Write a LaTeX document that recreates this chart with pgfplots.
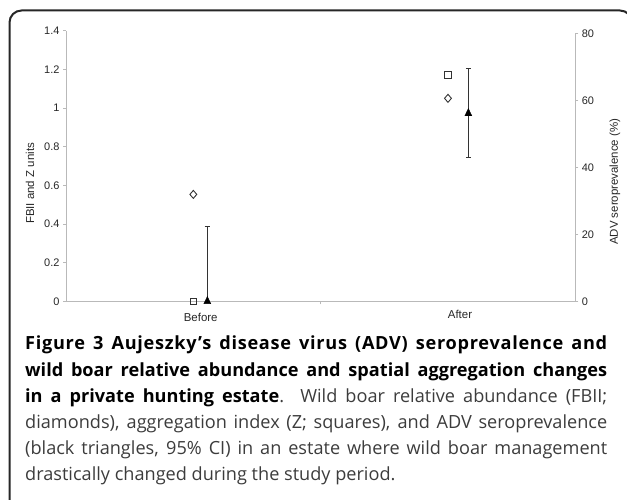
\documentclass[border=0pt]{standalone}
\usepackage{pgfplots}
\pgfplotsset{compat=1.18}
\usepackage{fontspec}
\setmainfont{Open Sans}
\newfontfamily\arial{Liberation Sans}
\definecolor{axgray}{RGB}{185,185,185}
\definecolor{mk}{RGB}{50,50,50}
\definecolor{captxt}{RGB}{60,60,60}
\begin{document}
\begin{tikzpicture}[x=1bp,y=1bp]
\path[use as bounding box] (0,0) rectangle (627,500);
\begin{scope}
\clip (0,0) rectangle (627,500);
\draw[line width=2bp, color=black!85, rounded corners=12bp] (9.5,-30) rectangle (632,489.5);
\end{scope}
% left axis
\begin{axis}[
  scale only axis, width=509.3bp, height=270.6bp,
  at={(66bp,198.7bp)}, anchor=south west,
  xmin=0, xmax=2, ymin=0, ymax=1.4,
  axis y line*=left, axis x line*=bottom,
  axis line style={draw=axgray, line width=0.8bp},
  tick style={draw=axgray, line width=0.8bp},
  tick align=outside, major tick length=3bp,
  xtick={1}, xticklabels={},
  ytick={0,0.2,0.4,0.6,0.8,1,1.2,1.4},
  yticklabel style={font=\arial\fontsize{11}{13}\selectfont, text=black!85},
  /pgf/number format/assume math mode=true,
  clip=false,
]
\addplot[only marks, mark=diamond, mark size=4bp, mark options={draw=mk, fill=white, line width=0.9bp, xscale=1.15}]
  coordinates {(0.5,0.553) (1.5,1.05)};
\addplot[only marks, mark=square, mark size=3.3bp, mark options={draw=mk, fill=white, line width=0.9bp}]
  coordinates {(0.5,0) (1.5,1.171)};
\end{axis}
% right axis
\begin{axis}[
  scale only axis, width=509.3bp, height=268bp,
  at={(66bp,198.7bp)}, anchor=south west,
  xmin=0, xmax=2, ymin=0, ymax=80,
  axis y line*=right, axis x line=none,
  axis line style={draw=axgray, line width=0.8bp},
  tick style={draw=axgray, line width=0.8bp},
  tick align=outside, major tick length=3bp,
  ytick={0,20,40,60,80},
  yticklabel style={font=\arial\fontsize{11}{13}\selectfont, text=black!85},
  /pgf/number format/assume math mode=true,
  clip=false,
]
\addplot[only marks, color=black!85, mark=triangle*, mark size=4bp,
  mark options={yscale=1.2, fill=black, draw=black},
  error bars/.cd, y dir=both, y explicit,
  error bar style={line width=0.9bp, color=black!80},
  error mark options={rotate=90, line width=0.9bp, mark size=2.6bp, color=black!80}]
  coordinates {(0.555,0) += (0,22.3) -= (0,0)
               (1.58,56.1) += (0,13.5) -= (0,13.1)};
\end{axis}
% axis texts
\node[rotate=90, font=\arial\fontsize{11.5}{13}\selectfont, text=black!85] at (30,316.5) {FBII and Z units};
\node[rotate=90, font=\arial\fontsize{11.5}{13}\selectfont, text=black!85] at (615,318.3) {ADV seroprevalence (\%)};
\node[inner sep=0, font=\arial\fontsize{11.5}{13}\selectfont, text=black!85] at (200.7,182.7) {Before};
\node[inner sep=0, font=\arial\fontsize{11.5}{13}\selectfont, text=black!85] at (460,185.5) {After};
% caption
\begin{scope}[every node/.style={anchor=base west, inner sep=0}, font=\fontsize{18.2}{22}\selectfont]
\node at (25,150) {\makebox[582bp][s]{\bfseries\addfontfeature{LetterSpace=4}Figure 3 Aujeszky’s disease virus (ADV) seroprevalence and}};
\node at (25,123.5) {\makebox[582bp][s]{\bfseries wild boar relative abundance and spatial aggregation changes}};
\node at (25,97) {\makebox[582bp][s]{\textbf{in a private hunting estate}\textcolor{captxt}{. Wild boar relative abundance (FBII;}}};
\node[text=captxt] at (25,71) {\makebox[582bp][s]{diamonds), aggregation index (Z; squares), and ADV seroprevalence}};
\node[text=captxt] at (25,45) {\makebox[582bp][s]{(black triangles, 95\% CI) in an estate where wild boar management}};
\node[text=captxt] at (25,19) {\makebox[582bp][l]{drastically changed during the study period.}};
\end{scope}
\end{tikzpicture}
\end{document}
